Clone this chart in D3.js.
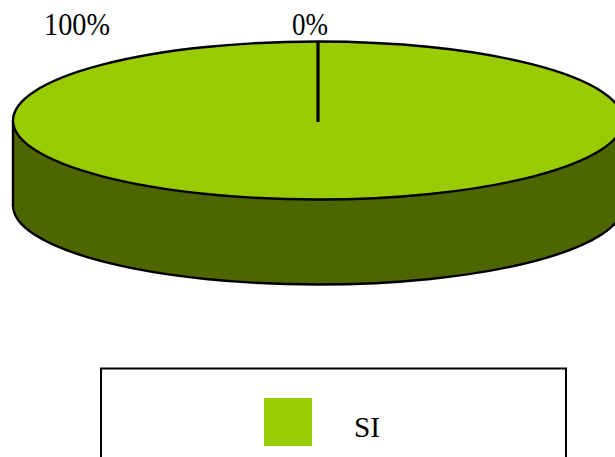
<!DOCTYPE html>
<html>
<head>
<meta charset="utf-8">
<script src="https://cdn.jsdelivr.net/npm/d3@7/dist/d3.min.js"></script>
<style>
html,body{margin:0;padding:0;background:#fff;overflow:hidden}
svg{display:block}
text{font-family:"Liberation Serif",serif;fill:#000}
</style>
</head>
<body>
<script>
const categories = ["SI", "NO"];
const values = [100, 0];
const labels = ["100%", "0%"];

const W = 615, H = 457;
const cx = 318, cy = 120.5, rx = 305, ry = 79, depth = 85;
const topColor = "#99cc00", sideColor = "#4d6600";
const edge = 2.4;

const svg = d3.select("body").append("svg").attr("width", W).attr("height", H);

const pie = d3.pie().sort(null).value(d => d);
const arcs = pie(values);
const arc = d3.arc().innerRadius(0).outerRadius(1);

// Side wall: lower half-ellipse joined to the top rim
const sideArc = d3.arc().innerRadius(0).outerRadius(1)({startAngle: Math.PI / 2, endAngle: 3 * Math.PI / 2});
const side = svg.append("g");
side.append("rect")
  .attr("x", cx - rx).attr("y", cy).attr("width", 2 * rx).attr("height", depth)
  .attr("fill", sideColor);
side.append("path")
  .attr("d", sideArc)
  .attr("transform", `translate(${cx},${cy + depth}) scale(${rx},${ry})`)
  .attr("fill", sideColor).attr("stroke", "#000").attr("stroke-width", edge)
  .attr("vector-effect", "non-scaling-stroke");
side.selectAll("line.edge").data([cx - rx, cx + rx]).join("line")
  .attr("x1", d => d).attr("x2", d => d)
  .attr("y1", cy).attr("y2", cy + depth)
  .attr("stroke", "#000").attr("stroke-width", edge);
// cover the flat top of the lower half-ellipse
side.append("rect")
  .attr("x", cx - rx + 1.2).attr("y", cy + depth - 3).attr("width", 2 * rx - 2.4).attr("height", 6)
  .attr("fill", sideColor);

// Top face slices
svg.append("g").attr("transform", `translate(${cx},${cy}) scale(${rx},${ry})`)
  .selectAll("path").data(arcs).join("path")
  .attr("d", arc)
  .attr("fill", topColor)
  .attr("stroke", "#000").attr("stroke-width", edge)
  .attr("vector-effect", "non-scaling-stroke");

// Slice boundary at the 0% value
svg.append("line")
  .attr("x1", cx).attr("x2", cx)
  .attr("y1", cy - ry).attr("y2", cy + 1.5)
  .attr("stroke", "#000").attr("stroke-width", 3);

// Data labels
const labelX = [44, 292], labelY = 35, labelW = [66, 36];
svg.append("g").selectAll("text").data(labels).join("text")
  .attr("x", (d, i) => labelX[i]).attr("y", labelY)
  .attr("font-size", 31)
  .attr("textLength", (d, i) => labelW[i])
  .attr("lengthAdjust", "spacingAndGlyphs")
  .text(d => d);

// Legend
svg.append("rect")
  .attr("x", 101).attr("y", 368.5).attr("width", 465).attr("height", 100)
  .attr("fill", "#fff").attr("stroke", "#000").attr("stroke-width", 2);
svg.append("rect")
  .attr("x", 264).attr("y", 398).attr("width", 48).attr("height", 48)
  .attr("fill", topColor);
svg.append("text")
  .attr("x", 354).attr("y", 437).attr("font-size", 30)
  .attr("textLength", 26)
  .attr("lengthAdjust", "spacingAndGlyphs")
  .text(categories[0]);
</script>
</body>
</html>
